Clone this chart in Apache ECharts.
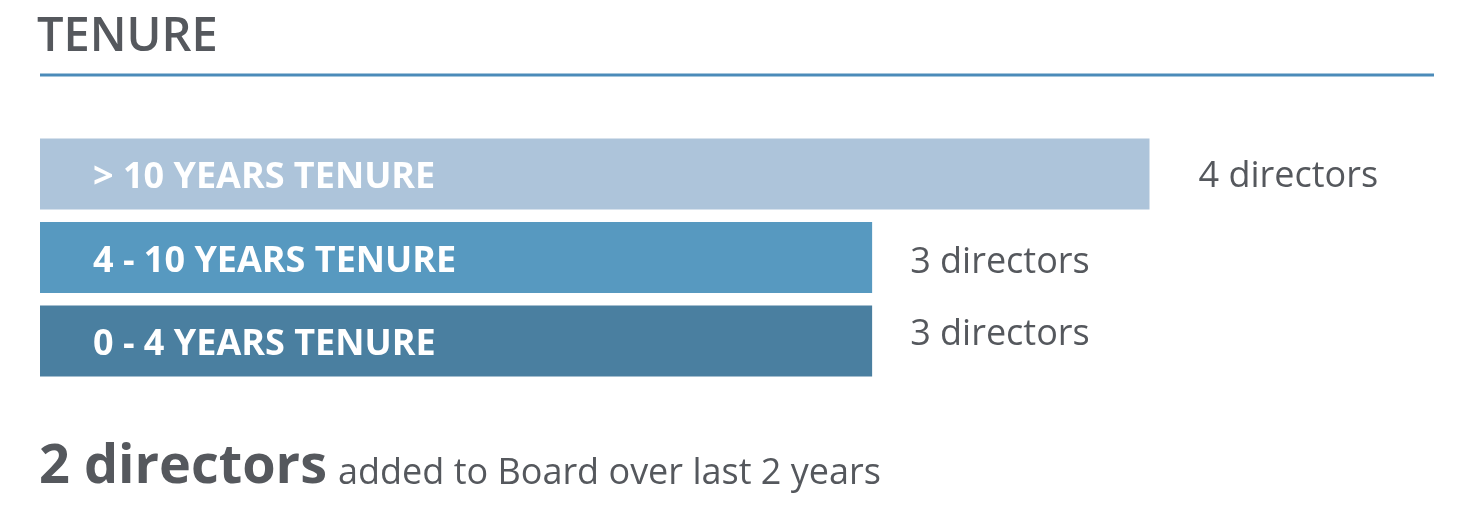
<!DOCTYPE html>
<html><head><meta charset="utf-8">
<script src="https://cdn.jsdelivr.net/npm/echarts@6/dist/echarts.min.js"></script>
<style>html,body{margin:0;padding:0;background:#fff}#c{width:1470px;height:527px}</style>
</head><body><div id="c"></div>
<script>
const categories = ['> 10 YEARS TENURE', '4 - 10 YEARS TENURE', '0 - 4 YEARS TENURE'];
const directors = [4, 3, 3];
const barColors = ['#adc4da', '#5799c0', '#4a7fa0'];
const addedDirectors = 2;
const addedYears = 2;
const titleText = 'TENURE';

const labelShift = [[0, 3], [0, 5], [0, -6]];
const labelGap = [49, 38, 38];
const textColor = '#55585d';
const font = '"Open Sans", sans-serif';

const chart = echarts.init(document.getElementById('c'), null, {renderer: 'canvas'});
chart.setOption({
  animation: false,
  title: [{
    text: titleText, left: 32, top: 9,
    textStyle: {fontFamily: font, fontSize: 47, fontWeight: 600, color: textColor}
  }, {
    text: '{b|' + addedDirectors + ' directors}{r|added to Board over last ' + addedYears + ' years}',
    left: 34, top: 436,
    textStyle: {rich: {
      b: {fontFamily: font, fontSize: 54, fontWeight: 'bold', color: textColor},
      r: {fontFamily: font, fontSize: 36, fontWeight: 'normal', color: textColor, padding: [12, 0, 0, 11]}
    }}
  }],
  graphic: [{
    type: 'rect', shape: {x: 40, y: 73.5, width: 1394, height: 3},
    style: {fill: '#4b8bb9'}
  }],
  grid: {left: 40, top: 132.25, width: 1109.5, height: 250.5, containLabel: false},
  xAxis: {type: 'value', min: 0, max: 4, show: false},
  yAxis: {type: 'category', data: categories, inverse: true, show: false},
  series: [{
    type: 'bar', barWidth: 71,
    data: directors.map((v, i) => ({
      value: v,
      itemStyle: {color: barColors[i]},
      label: {distance: labelGap[i], offset: labelShift[i]}
    })),
    label: {
      show: true, position: 'right',
      fontFamily: font, fontSize: 36, color: textColor,
      formatter: p => p.value + ' directors'
    }
  }, {
    type: 'bar', barWidth: 71, barGap: '-100%',
    data: directors,
    itemStyle: {color: 'transparent'},
    silent: true,
    label: {
      show: true, position: 'insideLeft', distance: 53, offset: [0, 4],
      fontFamily: font, fontSize: 36, fontWeight: 'bold', color: '#ffffff',
      formatter: p => p.name
    }
  }]
});
</script></body></html>
